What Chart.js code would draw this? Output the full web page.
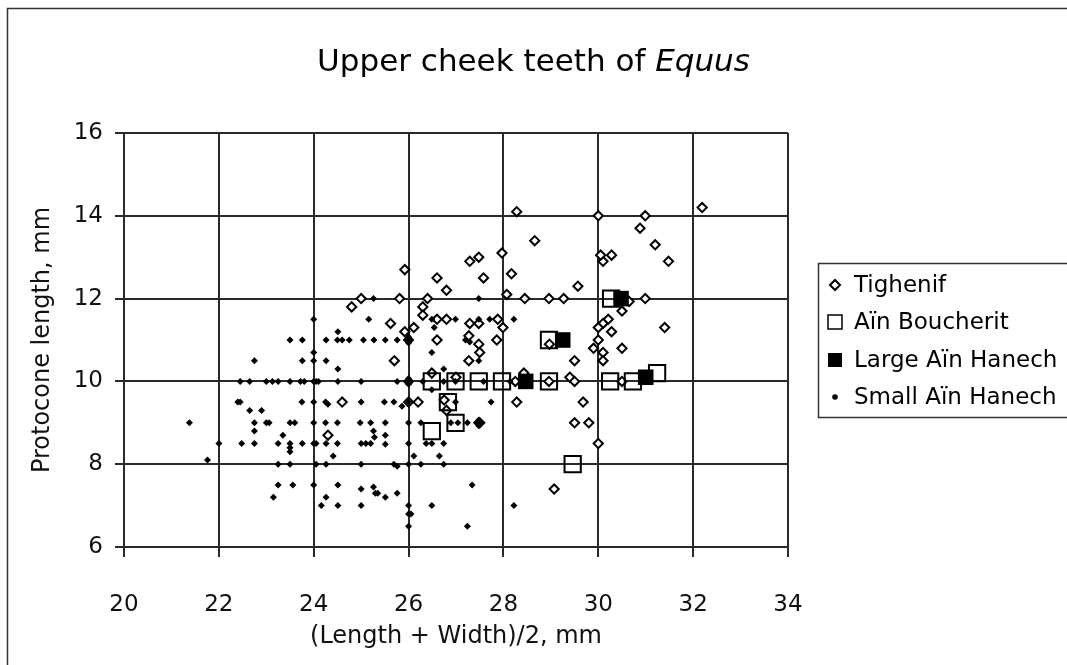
<!DOCTYPE html>
<html>
<head>
<meta charset="utf-8">
<title>Upper cheek teeth of Equus</title>
<script src="https://cdn.jsdelivr.net/npm/chart.js@4.4.1/dist/chart.umd.min.js"></script>
<style>
  html, body { margin: 0; padding: 0; background: #fff; overflow: hidden; }
  canvas { display: block; }
</style>
</head>
<body>
<canvas id="equus-chart" width="1067" height="665"></canvas>
<script>
// Series names, in legend order.
const seriesNames = ['Tighenif', 'Aïn Boucherit', 'Large Aïn Hanech', 'Small Aïn Hanech'];

// Tick values for both axes.
const xTicks = [20, 22, 24, 26, 28, 30, 32, 34];
const yTicks = [6, 8, 10, 12, 14, 16];

// [(length + width)/2, protocone length] pairs, mm.
const tighenif = [
    [24.8, 11.8], [25.0, 12.0], [24.6, 9.5], [24.3, 8.7], [28.28, 14.1], [28.66, 13.4],
    [27.29, 12.9], [27.48, 13.0], [27.97, 13.1], [25.92, 12.7], [26.6, 12.5], [27.58, 12.5],
    [28.17, 12.6], [26.8, 12.2], [29.57, 12.3], [25.81, 12.0], [26.4, 12.0], [28.07, 12.1],
    [28.45, 12.0], [28.96, 12.0], [29.27, 12.0], [26.3, 11.8], [26.3, 11.6], [26.6, 11.5],
    [26.8, 11.5], [25.62, 11.4], [26.11, 11.3], [25.92, 11.2], [27.29, 11.4], [27.48, 11.4],
    [27.88, 11.5], [27.99, 11.3], [27.27, 11.1], [26.6, 11.0], [27.86, 11.0], [27.48, 10.9],
    [27.5, 10.7], [27.27, 10.5], [25.7, 10.5], [26.49, 10.2], [27.0, 10.1], [28.43, 10.2],
    [28.25, 10.0], [28.96, 10.0], [28.97, 10.9], [26.0, 9.5], [26.2, 9.5], [28.28, 9.5],
    [26.8, 9.3], [26.75, 9.55], [27.5, 9.0], [30.0, 14.0], [30.99, 14.0], [30.88, 13.7],
    [32.19, 14.2], [31.2, 13.3], [31.48, 12.9], [30.1, 12.9], [30.28, 13.05], [30.05, 13.05],
    [30.99, 12.0], [30.65, 11.93], [30.5, 11.7], [30.21, 11.5], [30.1, 11.4], [30.0, 11.3],
    [30.28, 11.2], [31.4, 11.3], [30.0, 11.0], [29.9, 10.8], [30.1, 10.7], [30.5, 10.8],
    [30.1, 10.5], [29.5, 10.5], [29.4, 10.1], [29.5, 10.0], [30.5, 10.0], [29.68, 9.5],
    [29.5, 9.0], [29.8, 9.0], [30.0, 8.5], [29.07, 7.4]
];

const ainBoucherit = [
    [26.49, 10.0], [26.99, 10.0], [27.48, 10.0], [27.97, 10.0], [28.96, 10.0], [28.96, 11.0],
    [26.83, 9.5], [26.99, 9.0], [26.49, 8.8], [29.46, 8.0], [30.27, 12.0], [30.25, 10.0],
    [30.73, 10.0], [31.24, 10.2]
];

const largeAinHanech = [
    [28.47, 10.0], [29.25, 11.0], [30.48, 12.0], [31.0, 10.1]
];

const smallAinHanech = [
    [25.26, 12.0], [25.16, 11.5], [24.0, 11.5], [24.51, 11.2],
    [23.5, 11.0], [23.76, 11.0], [24.26, 11.0], [24.5, 11.0], [24.6, 11.0], [24.75, 11.0],
    [25.05, 11.0], [25.27, 11.0], [24.0, 10.7],
    [22.75, 10.5], [23.76, 10.5], [24.0, 10.5], [24.26, 10.5], [24.51, 10.3],
    [22.45, 10.0], [22.65, 10.0], [23.0, 10.0], [23.13, 10.0], [23.25, 10.0], [23.5, 10.0],
    [23.72, 10.0], [23.8, 10.0], [24.0, 10.0], [24.05, 10.0], [24.1, 10.0], [24.51, 10.0],
    [25.0, 10.0],
    [22.4, 9.5], [22.45, 9.5], [23.75, 9.5], [24.0, 9.5], [24.25, 9.5], [24.3, 9.45], [25.0, 9.5],
    [22.65, 9.3], [22.9, 9.3],
    [21.38, 9.0], [22.75, 9.0], [23.0, 9.0], [23.06, 9.0], [23.5, 9.0], [23.6, 9.0], [24.0, 9.0],
    [24.25, 9.0], [24.5, 9.0], [24.98, 9.0], [25.2, 9.0],
    [22.75, 8.8], [25.26, 8.8], [23.35, 8.7],
    [22.0, 8.5], [22.48, 8.5], [22.75, 8.5], [23.25, 8.5], [23.5, 8.5], [23.5, 8.4], [23.5, 8.3],
    [23.76, 8.5], [24.0, 8.5], [24.05, 8.5], [24.26, 8.5], [24.5, 8.5], [25.0, 8.5], [25.1, 8.5],
    [25.2, 8.5],
    [24.41, 8.2], [21.76, 8.1],
    [23.25, 8.0], [23.5, 8.0], [24.05, 8.0], [24.26, 8.0], [25.0, 8.0],
    [23.25, 7.5], [23.56, 7.5], [24.0, 7.5], [24.51, 7.5], [25.0, 7.4], [25.26, 7.45], [25.3, 7.3],
    [23.15, 7.2], [24.26, 7.2], [24.16, 7.0], [24.51, 7.0], [25.0, 7.0],
    [27.48, 12.0],
    [25.51, 11.0], [25.76, 11.0], [25.95, 11.0], [26.0, 11.0], [26.05, 11.0], [26.0, 10.93], [26.0, 11.07],
    [26.49, 11.5], [26.54, 11.3], [26.99, 11.5], [27.48, 11.5], [27.71, 11.5], [28.22, 11.5],
    [27.2, 11.0], [27.29, 10.95], [26.49, 10.7], [27.48, 10.5], [26.74, 10.3],
    [25.76, 10.0], [25.95, 10.0], [26.0, 10.0], [26.05, 10.0], [26.0, 9.93], [26.0, 10.07],
    [26.3, 10.0], [26.74, 10.0], [26.99, 10.0], [27.58, 10.0], [28.14, 10.0],
    [26.49, 9.8],
    [25.49, 9.5], [25.69, 9.5], [25.86, 9.4], [26.0, 9.5], [26.99, 9.5], [27.74, 9.5],
    [25.51, 9.0], [26.0, 9.0], [26.26, 9.0], [26.89, 9.0], [27.04, 9.0], [27.24, 9.0],
    [27.43, 9.0], [27.48, 9.0], [27.53, 9.0], [27.48, 8.93], [27.48, 9.07],
    [25.28, 8.65], [25.51, 8.7], [25.51, 8.48],
    [26.0, 8.5], [26.37, 8.5], [26.49, 8.5], [26.74, 8.5], [26.11, 8.2], [26.65, 8.2],
    [25.69, 8.0], [25.76, 7.95], [26.0, 8.0], [26.26, 8.0], [26.74, 8.0],
    [25.35, 7.3], [25.51, 7.2], [25.76, 7.3], [27.34, 7.5],
    [26.0, 7.0], [26.49, 7.0], [28.22, 7.0], [26.0, 6.8], [26.05, 6.8],
    [26.0, 6.5], [27.24, 6.5]
];

const FONT = "'DejaVu Sans', Verdana, sans-serif";
const INK = '#2a2a2a';

const toPoints = rows => rows.map(([x, y]) => ({ x: x, y: y }));

// Draws a legend marker like the ones used for each series.
function drawMarker(c, i, x, y) {
    c.beginPath();
    if (i === 0) {
        c.moveTo(x - 5, y); c.lineTo(x, y - 5); c.lineTo(x + 5, y); c.lineTo(x, y + 5);
        c.closePath();
        c.lineWidth = 2; c.strokeStyle = '#000'; c.stroke();
    } else if (i === 1) {
        c.rect(x - 7, y - 7, 14, 14);
        c.lineWidth = 1.5; c.strokeStyle = '#000'; c.stroke();
    } else if (i === 2) {
        c.fillStyle = '#000'; c.fillRect(x - 7, y - 7, 14, 14);
    } else {
        c.arc(x, y, 2.8, 0, Math.PI * 2);
        c.fillStyle = '#000'; c.fill();
    }
}

const pageDecor = {
    id: 'pageDecor',
    beforeDraw(chart) {
        const c = chart.ctx;
        c.save();
        c.fillStyle = '#fff';
        c.fillRect(0, 0, chart.width, chart.height);
        c.restore();
    },
    afterDraw(chart) {
        const c = chart.ctx;
        c.save();

        // Outer frame, cut off at the right and bottom like the original.
        c.strokeStyle = '#333';
        c.lineWidth = 1.5;
        c.strokeRect(7.5, 8.5, chart.width + 20, chart.height + 20);

        // Title, genus name in italics.
        const plain = 'Upper cheek teeth of ';
        const genus = 'Equus';
        c.fillStyle = '#000';
        c.textBaseline = 'middle';
        c.font = '31px ' + FONT;
        const w1 = c.measureText(plain).width;
        c.font = 'italic 31px ' + FONT;
        const w2 = c.measureText(genus).width;
        const tx = chart.width / 2 - (w1 + w2) / 2;
        c.font = '31px ' + FONT;
        c.fillText(plain, tx, 63);
        c.font = 'italic 31px ' + FONT;
        c.fillText(genus, tx + w1, 63);

        // Legend box, running off the right edge.
        c.strokeStyle = '#333';
        c.lineWidth = 1.5;
        c.strokeRect(818.5, 263.5, 300, 154);
        const rows = [285, 322, 360, 397];
        c.font = '23px ' + FONT;
        seriesNames.forEach((name, i) => {
            drawMarker(c, i, 835, rows[i]);
            c.fillStyle = '#000';
            c.textBaseline = 'middle';
            c.fillText(name, 854, rows[i] + 1);
        });

        c.restore();
    }
};

const tickFont = { family: FONT, size: 23 };
const titleFont = { family: FONT, size: 24 };

new Chart(document.getElementById('equus-chart'), {
    type: 'scatter',
    data: {
        datasets: [{
            label: seriesNames[0],
            data: toPoints(tighenif),
            order: 2,
            pointStyle: 'rectRot',
            pointRadius: 4.6,
            borderWidth: 2,
            borderColor: '#000',
            backgroundColor: '#fff'
        }, {
            label: seriesNames[1],
            data: toPoints(ainBoucherit),
            order: 1,
            pointStyle: 'rect',
            pointRadius: 11.5,
            borderWidth: 2,
            borderColor: '#000',
            backgroundColor: 'rgba(255, 255, 255, 0)'
        }, {
            label: seriesNames[2],
            data: toPoints(largeAinHanech),
            order: 1,
            pointStyle: 'rect',
            pointRadius: 11,
            borderWidth: 0,
            borderColor: '#000',
            backgroundColor: '#000'
        }, {
            label: seriesNames[3],
            data: toPoints(smallAinHanech),
            order: 0,
            pointStyle: 'rectRot',
            pointRadius: 3.5,
            borderWidth: 0,
            borderColor: '#000',
            backgroundColor: '#000'
        }]
    },
    options: {
        responsive: false,
        animation: false,
        events: [],
        layout: {
            padding: { left: 8, top: 133, right: 279, bottom: 0 }
        },
        plugins: {
            legend: { display: false },
            title: { display: false },
            tooltip: { enabled: false }
        },
        scales: {
            x: {
                type: 'linear',
                min: xTicks[0],
                max: xTicks[xTicks.length - 1],
                afterBuildTicks: s => { s.ticks = xTicks.map(v => ({ value: v })); },
                afterFit: s => { s.height = 118; },
                border: { display: true, color: INK, width: 2 },
                grid: { color: INK, lineWidth: 2, tickLength: 10 },
                ticks: { color: '#111', font: tickFont, padding: 34, maxRotation: 0 },
                title: {
                    display: true,
                    text: '(Length + Width)/2, mm',
                    color: '#111',
                    font: titleFont,
                    padding: { top: 0, bottom: 14 }
                }
            },
            y: {
                type: 'linear',
                min: yTicks[0],
                max: yTicks[yTicks.length - 1],
                afterBuildTicks: s => { s.ticks = yTicks.map(v => ({ value: v })); },
                afterFit: s => { s.width = 116; },
                border: { display: true, color: INK, width: 2 },
                grid: { color: INK, lineWidth: 2, tickLength: 9 },
                ticks: { color: '#111', font: tickFont, padding: 12 },
                title: {
                    display: true,
                    text: 'Protocone length, mm',
                    color: '#111',
                    font: titleFont,
                    padding: { top: 20, bottom: 0 }
                }
            }
        }
    },
    plugins: [pageDecor]
});
</script>
</body>
</html>
